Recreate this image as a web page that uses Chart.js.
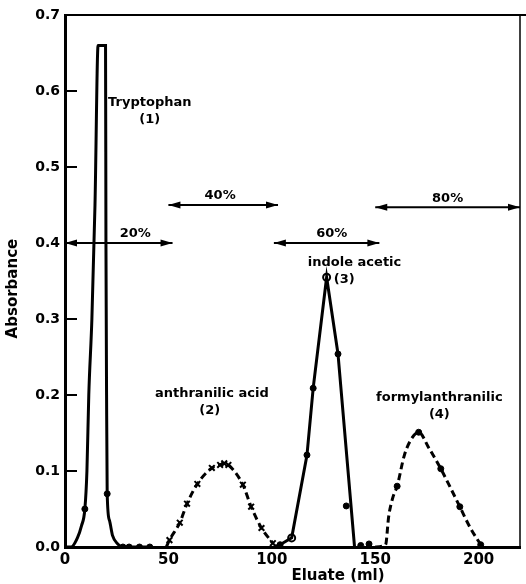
<!DOCTYPE html>
<html><head><meta charset="utf-8">
<script src="https://cdn.jsdelivr.net/npm/chart.js@4"></script>
<style>html,body{margin:0;padding:0;background:#fff}</style></head><body>
<canvas id="c" width="526" height="584"></canvas>
<script>
// ---- data (Eluate ml, Absorbance) ----
const xTicks = [0, 50, 100, 150, 200];
const yTicks = [0, 0.1, 0.2, 0.3, 0.4, 0.5, 0.6, 0.7];

// (1) Tryptophan
const trpCurveX = [0, 3, 6, 8, 9.6, 10.6, 11.5, 13, 14.5, 16, 19.6, 19.8, 20.1, 20.4, 21.5, 23, 25.5, 28, 31, 36, 41];
const trpCurveY = [0, 0, 0.012, 0.028, 0.05, 0.1, 0.2, 0.3, 0.45, 0.66, 0.66, 0.4, 0.2, 0.07, 0.035, 0.015, 0.004, 0, 0, 0, 0];
const trpPointX = [9.6, 20.4, 28, 31, 36, 41];
const trpPointY = [0.05, 0.07, 0, 0, 0, 0];

// (2) Anthranilic acid
const anCurveX = [49, 50.5, 55.5, 59, 64, 71, 75, 77, 79, 86, 90, 95, 100.5];
const anCurveY = [0, 0.009, 0.032, 0.057, 0.083, 0.104, 0.108, 0.11, 0.108, 0.082, 0.053, 0.025, 0.005];
const anPointX = [50.5, 55.5, 59, 64, 71, 75, 77, 79, 86, 90, 95, 100.5];
const anPointY = [0.009, 0.032, 0.057, 0.083, 0.104, 0.108, 0.11, 0.108, 0.082, 0.053, 0.025, 0.005];

// (3) Indole acetic
const inCurveX = [101, 104, 109.6, 117, 120, 126.5, 132, 140];
const inCurveY = [0, 0.003, 0.012, 0.121, 0.209, 0.355, 0.254, 0];
const inPointX = [104, 117, 120, 132, 136, 143, 147];
const inPointY = [0.003, 0.121, 0.209, 0.254, 0.054, 0.002, 0.004];
const inOpenX = [109.6, 126.5];
const inOpenY = [0.012, 0.355];

// (4) Formylanthranilic
const foCurveX = [150, 155, 156.5, 158.5, 160.6, 164, 167, 171, 176, 181.7, 186, 190.9, 196, 201];
const foCurveY = [0, 0.003, 0.04, 0.065, 0.08, 0.12, 0.14, 0.151, 0.13, 0.103, 0.08, 0.053, 0.025, 0.003];
const foPointX = [160.6, 171, 181.7, 190.9, 201];
const foPointY = [0.08, 0.151, 0.103, 0.053, 0.003];

// solvent steps: label, from, to, level
const stepLabels = ['20%', '40%', '60%', '80%'];
const stepFrom = [0, 50, 101, 150];
const stepTo = [52, 103, 152, 220];
const stepLevel = [0.40, 0.45, 0.40, 0.447];
const stepLabelX = [34, 75, 129, 185];

// compound labels
const compLines1 = ['Tryptophan', 'anthranilic acid', 'indole acetic', 'formylanthranilic'];
const compLines2 = ['(1)', '(2)', '(3)', '(4)'];
const compX = [41, 71, 140, 181];
const compY = [0.585, 0.202, 0.374, 0.196];
const comp2X = [41, 70, 135, 181];

const pts = (xs, ys) => xs.map((x, i) => ({x: x, y: ys[i]}));
const FONT = 'DejaVu Sans';

const annot = {
  id: 'annot',
  afterDraw(chart) {
    const ctx = chart.ctx, xs = chart.scales.x, ys = chart.scales.y, a = chart.chartArea;
    ctx.save();
    ctx.strokeStyle = '#000'; ctx.fillStyle = '#000';
    // frame top and right
    ctx.lineWidth = 2;
    ctx.beginPath(); ctx.moveTo(a.left, a.top); ctx.lineTo(526, a.top); ctx.stroke();
    ctx.lineWidth = 1.5;
    ctx.beginPath(); ctx.moveTo(a.right, a.top); ctx.lineTo(a.right, a.bottom); ctx.stroke();
    // inward y ticks
    ctx.lineWidth = 2;
    yTicks.forEach(v => {
      if (v === 0 || v === 0.7) return;
      const y = ys.getPixelForValue(v);
      ctx.beginPath(); ctx.moveTo(a.left, y); ctx.lineTo(a.left + 12, y); ctx.stroke();
    });
    // arrows
    const head = (x, y, dir) => {
      ctx.beginPath(); ctx.moveTo(x, y); ctx.lineTo(x - dir * 12, y - 3.5); ctx.lineTo(x - dir * 12, y + 3.5); ctx.closePath(); ctx.fill();
    };
    ctx.font = 'bold 13px "' + FONT + '"';
    ctx.textAlign = 'center'; ctx.textBaseline = 'middle';
    stepLabels.forEach((t, i) => {
      const x1 = xs.getPixelForValue(stepFrom[i]), x2 = xs.getPixelForValue(stepTo[i]);
      const y = ys.getPixelForValue(stepLevel[i]);
      ctx.lineWidth = 2;
      ctx.beginPath(); ctx.moveTo(x1, y); ctx.lineTo(x2, y); ctx.stroke();
      head(x1, y, -1); head(x2, y, 1);
      ctx.fillText(t, xs.getPixelForValue(stepLabelX[i]), y - 9);
    });
    compLines1.forEach((t, i) => {
      const x = xs.getPixelForValue(compX[i]), y = ys.getPixelForValue(compY[i]);
      ctx.fillText(t, x, y);
      ctx.fillText(compLines2[i], xs.getPixelForValue(comp2X[i]), y + 17);
    });
    // axis titles
    ctx.font = 'bold 15px "' + FONT + '"';
    ctx.fillText('Eluate (ml)', xs.getPixelForValue(132), 576);
    ctx.translate(13, ys.getPixelForValue(0.34));
    ctx.rotate(-Math.PI / 2);
    ctx.fillText('Absorbance', 0, 0);
    ctx.restore();
  }
};

const line = (xs, ys, extra) => Object.assign({
  data: pts(xs, ys), showLine: true, borderColor: '#000', borderWidth: 3,
  pointRadius: 0, cubicInterpolationMode: 'monotone', fill: false
}, extra || {});
const marks = (xs, ys, extra) => Object.assign({
  data: pts(xs, ys), showLine: false, borderColor: '#000', backgroundColor: '#000',
  pointRadius: 3, borderWidth: 1
}, extra || {});

new Chart(document.getElementById('c'), {
  type: 'scatter',
  data: {
    datasets: [
      line(trpCurveX, trpCurveY),
      marks(trpPointX, trpPointY),
      line(anCurveX, anCurveY, {borderDash: [7, 4]}),
      marks(anPointX, anPointY, {pointStyle: 'crossRot', pointRadius: 4, borderWidth: 2}),
      line(inCurveX, inCurveY, {cubicInterpolationMode: 'default', tension: 0}),
      marks(inPointX, inPointY),
      marks(inOpenX, inOpenY, {backgroundColor: '#fff', borderWidth: 2, pointRadius: 3.5}),
      line(foCurveX, foCurveY, {borderDash: [7, 4]}),
      marks(foPointX, foPointY)
    ]
  },
  options: {
    responsive: false, animation: false, devicePixelRatio: 1,
    layout: {padding: {left: 0, top: 15, right: 2, bottom: 0}},
    plugins: {legend: {display: false}, tooltip: {enabled: false}},
    scales: {
      x: {
        type: 'linear', min: 0, max: 220,
        afterBuildTicks: s => { s.ticks = xTicks.map(v => ({value: v})); },
        afterFit: s => { s.height = 37; },
        grid: {display: false, drawTicks: false},
        border: {display: true, color: '#000', width: 3},
        ticks: {color: '#000', padding: 4, font: {family: FONT, size: 15, weight: 'bold'}}
      },
      y: {
        type: 'linear', min: 0, max: 0.7,
        afterBuildTicks: s => { s.ticks = yTicks.map(v => ({value: v})); },
        afterFit: s => { s.width = 65; },
        grid: {display: false, drawTicks: false},
        border: {display: true, color: '#000', width: 3},
        ticks: {color: '#000', padding: 5, font: {family: FONT, size: 14, weight: 'bold'},
                callback: v => v.toFixed(1)}
      }
    }
  },
  plugins: [annot]
});
</script>
</body></html>
